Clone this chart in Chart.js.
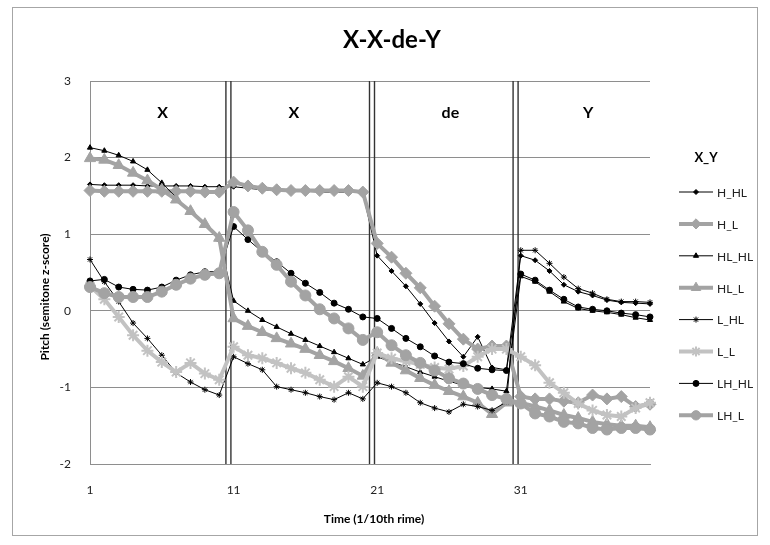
<!DOCTYPE html>
<html lang="en">

<head>
  <meta charset="UTF-8">
  <title>X-X-de-Y</title>
  <style>
    body { margin: 0; background: #fff; }
  </style>
</head>

<body>
  <canvas id="pitchChart" width="770" height="545"></canvas>

  <script src="https://cdn.jsdelivr.net/npm/chart.js"></script>
  <script>
    // time steps 1..40 (1/10th of a rime)
    const timeSteps = Array.from({ length: 40 }, (_, i) => String(i + 1));
    const shownTicks = ['1', '11', '21', '31'];
    const yTicks = [3, 2, 1, 0, -1, -2];
    const segmentNames = ['X', 'X', 'de', 'Y'];

    // series values (semitone z-score)
    const hHL = [1.65, 1.64, 1.64, 1.64, 1.63, 1.63, 1.63, 1.63, 1.62, 1.62,
      1.62, 1.60, 1.58, 1.57, 1.56, 1.56, 1.55, 1.55, 1.55, 1.54,
      0.72, 0.52, 0.32, 0.09, -0.16, -0.40, -0.60, -0.34, -0.74, -0.77,
      0.72, 0.66, 0.52, 0.34, 0.25, 0.20, 0.14, 0.11, 0.10, 0.09];
    const hL = [1.57, 1.56, 1.56, 1.56, 1.56, 1.56, 1.56, 1.56, 1.55, 1.55,
      1.68, 1.63, 1.60, 1.58, 1.57, 1.57, 1.57, 1.57, 1.57, 1.55,
      0.88, 0.70, 0.49, 0.30, 0.06, -0.17, -0.37, -0.50, -0.46, -0.46,
      -1.12, -1.15, -1.15, -1.18, -1.20, -1.10, -1.15, -1.12, -1.25, -1.22];
    const hlHL = [2.13, 2.09, 2.03, 1.95, 1.84, 1.67, 1.48, 1.30, 1.12, 0.93,
      0.13, 0.00, -0.12, -0.21, -0.30, -0.38, -0.46, -0.54, -0.62, -0.70,
      -0.60, -0.67, -0.73, -0.80, -0.86, -0.92, -0.97, -1.00, -1.02, -1.05,
      0.45, 0.38, 0.25, 0.12, 0.03, 0.00, -0.02, -0.05, -0.09, -0.12];
    const hlL = [1.99, 1.97, 1.90, 1.80, 1.70, 1.58, 1.45, 1.30, 1.13, 0.95,
      -0.10, -0.20, -0.28, -0.36, -0.43, -0.50, -0.58, -0.66, -0.75, -0.85,
      -0.55, -0.68, -0.78, -0.88, -0.97, -1.05, -1.12, -1.20, -1.35, -1.20,
      -1.20, -1.25, -1.30, -1.36, -1.40, -1.45, -1.48, -1.50, -1.50, -1.52];
    const lHL = [0.67, 0.38, 0.12, -0.16, -0.36, -0.58, -0.81, -0.93, -1.03, -1.10,
      -0.60, -0.69, -0.77, -0.99, -1.03, -1.07, -1.12, -1.16, -1.07, -1.15,
      -0.94, -0.99, -1.07, -1.20, -1.27, -1.32, -1.22, -1.25, -1.30, -1.19,
      0.79, 0.79, 0.62, 0.44, 0.29, 0.23, 0.15, 0.12, 0.12, 0.11];
    const lL = [0.32, 0.15, -0.08, -0.32, -0.52, -0.67, -0.80, -0.68, -0.82, -0.90,
      -0.47, -0.58, -0.62, -0.68, -0.75, -0.81, -0.90, -0.99, -0.86, -0.99,
      -0.55, -0.62, -0.66, -0.70, -0.74, -0.76, -0.72, -0.60, -0.50, -0.50,
      -0.60, -0.71, -0.94, -1.07, -1.21, -1.30, -1.36, -1.38, -1.27, -1.20];
    const lhHL = [0.39, 0.41, 0.31, 0.28, 0.27, 0.31, 0.40, 0.47, 0.51, 0.51,
      1.10, 0.93, 0.77, 0.64, 0.49, 0.36, 0.24, 0.10, 0.02, -0.08,
      -0.10, -0.23, -0.36, -0.47, -0.59, -0.67, -0.69, -0.75, -0.77, -0.78,
      0.48, 0.40, 0.27, 0.15, 0.05, 0.02, 0.00, -0.03, -0.05, -0.08];
    const lhL = [0.31, 0.23, 0.18, 0.18, 0.18, 0.25, 0.34, 0.42, 0.47, 0.49,
      1.29, 1.05, 0.77, 0.60, 0.38, 0.20, 0.02, -0.10, -0.23, -0.38,
      -0.28, -0.45, -0.58, -0.68, -0.78, -0.88, -0.95, -1.02, -1.10, -1.15,
      -1.21, -1.34, -1.38, -1.45, -1.47, -1.53, -1.55, -1.53, -1.53, -1.55];

    const FONT = 'Lato, "Open Sans", sans-serif';
    const GRID = '#8e8e8e';

    // thin black series
    function blackLine(label, data, style, r) {
      return {
        label, data,
        borderColor: '#000', backgroundColor: '#000',
        borderWidth: 1,
        pointStyle: style, pointRadius: r,
        pointBackgroundColor: '#000', pointBorderColor: '#000', pointBorderWidth: 1
      };
    }
    // thick grey series
    function greyLine(label, data, style, r, col) {
      return {
        label, data,
        borderColor: col, backgroundColor: col,
        borderWidth: 4,
        pointStyle: style, pointRadius: r,
        pointBackgroundColor: col, pointBorderColor: col,
        pointBorderWidth: style === 'star' ? 2 : 1
      };
    }

    const datasets = [
      blackLine('H_HL', hHL, 'rectRot', 2.5),
      greyLine('H_L', hL, 'rectRot', 6, '#a3a3a3'),
      blackLine('HL_HL', hlHL, 'triangle', 3),
      greyLine('HL_L', hlL, 'triangle', 6.5, '#a3a3a3'),
      blackLine('L_HL', lHL, 'star', 3),
      greyLine('L_L', lL, 'star', 6, '#c2c2c2'),
      blackLine('LH_HL', lhHL, 'circle', 3),
      greyLine('LH_L', lhL, 'circle', 5.5, '#a3a3a3')
    ];
    // later series sit on top, as in the original
    datasets.forEach((d, i) => { d.order = datasets.length - i; });

    // double bars between the syllables, labels, titles, legend, frame
    const decorPlugin = {
      id: 'decor',
      beforeDatasetsDraw(chart) {
        const { ctx, chartArea: a, scales: { x } } = chart;
        ctx.save();
        ctx.strokeStyle = '#333';
        ctx.lineWidth = 1.4;
        [10, 20, 30].forEach(idx => {
          const mid = (x.getPixelForValue(idx - 1) + x.getPixelForValue(idx)) / 2;
          [mid - 0.5, mid + 4.5].forEach(px => {
            ctx.beginPath();
            ctx.moveTo(px, a.top);
            ctx.lineTo(px, a.bottom);
            ctx.stroke();
          });
        });
        ctx.restore();
      },
      afterDraw(chart) {
        const { ctx, scales: { x } } = chart;
        ctx.save();
        // outer frame
        ctx.strokeStyle = '#a6a6a6';
        ctx.lineWidth = 1;
        ctx.strokeRect(12.5, 7.5, 745, 528);

        ctx.fillStyle = '#000';
        ctx.textAlign = 'center';
        ctx.textBaseline = 'middle';
        ctx.font = 'bold 24px ' + FONT;
        ctx.fillText('X-X-de-Y', 392, 40);

        ctx.font = 'bold 16px ' + FONT;
        const segPos = [5.05, 14.2, 25.1, 34.7];
        segmentNames.forEach((s, i) => {
          ctx.fillText(s, x.getPixelForValue(segPos[i]), 113);
        });

        ctx.font = 'bold 12px ' + FONT;
        ctx.fillText('Time (1/10th rime)', 374, 519);
        ctx.save();
        ctx.translate(45, 297);
        ctx.rotate(-Math.PI / 2);
        ctx.fillText('Pitch (semitone z-score)', 0, 0);
        ctx.restore();

        // legend
        ctx.font = 'bold 13px ' + FONT;
        ctx.fillText('X_Y', 706, 158);
        ctx.font = '12px ' + FONT;
        ctx.textAlign = 'left';
        chart.data.datasets.forEach((d, i) => {
          const y = 192 + i * 31.9;
          ctx.strokeStyle = d.borderColor;
          ctx.lineWidth = d.borderWidth;
          ctx.beginPath();
          ctx.moveTo(679, y);
          ctx.lineTo(713, y);
          ctx.stroke();
          ctx.fillStyle = d.pointBackgroundColor;
          ctx.strokeStyle = d.pointBorderColor;
          ctx.lineWidth = d.pointBorderWidth;
          Chart.helpers.drawPoint(ctx, {
            pointStyle: d.pointStyle,
            radius: d.borderWidth > 1 ? d.pointRadius * 0.85 : d.pointRadius,
            rotation: 0,
            borderWidth: d.pointBorderWidth
          }, 696, y);
          ctx.fillStyle = '#222';
          ctx.fillText(d.label, 717, y + 1);
        });
        ctx.restore();
      }
    };

    new Chart(document.getElementById('pitchChart'), {
      type: 'line',
      data: { labels: timeSteps, datasets },
      options: {
        responsive: false,
        animation: false,
        layout: { padding: { top: 81, left: 0, right: 120, bottom: 0 } },
        plugins: {
          legend: { display: false },
          title: { display: false },
          tooltip: { enabled: false }
        },
        elements: { line: { tension: 0 } },
        scales: {
          x: {
            afterFit(scale) { scale.height = 81; },
            grid: { display: false, drawTicks: false },
            border: { color: GRID, width: 1 },
            ticks: {
              autoSkip: false,
              maxRotation: 0,
              padding: 19,
              color: '#222',
              font: { family: FONT, size: 12 },
              callback(v) {
                const lab = this.getLabelForValue(v);
                return shownTicks.includes(lab) ? lab : '';
              }
            }
          },
          y: {
            min: -2,
            max: 3,
            afterFit(scale) { scale.width = 90; },
            afterBuildTicks(scale) { scale.ticks = yTicks.map(v => ({ value: v })); },
            grid: { color: GRID, lineWidth: 1, drawTicks: false },
            border: { color: GRID, width: 1 },
            ticks: {
              padding: 19,
              color: '#222',
              font: { family: FONT, size: 12 }
            }
          }
        }
      },
      plugins: [decorPlugin]
    });
  </script>
</body>

</html>
